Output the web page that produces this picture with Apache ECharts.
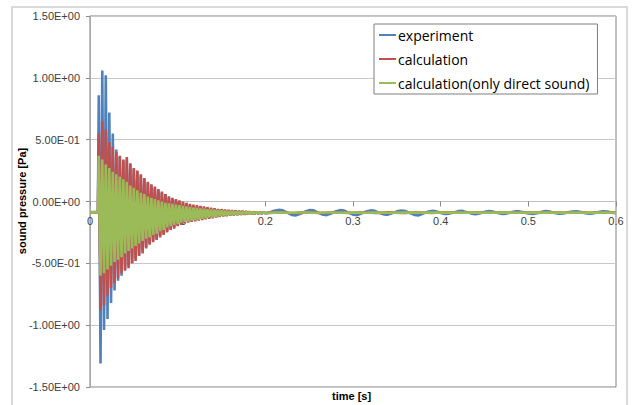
<!DOCTYPE html>
<html>
<head>
<meta charset="utf-8">
<script src="https://cdn.jsdelivr.net/npm/echarts@6/dist/echarts.min.js"></script>
<style>
  html, body { margin: 0; padding: 0; background: #fff; }
  #container { width: 633px; height: 405px; }
</style>
</head>
<body>
<div id="container"></div>
<script>
// sampling of the recorded signal (s)
const preTimes = [0, 0.009];
const burstStart = 0.010, burstStep = 0.002, burstCount = 96;
const tailStart = 0.205, tailStep = 0.005, tailCount = 80;

const yTicks = [-1.5, -1.0, -0.5, 0, 0.5, 1.0, 1.5];
const xTicks = [0, 0.1, 0.2, 0.3, 0.4, 0.5, 0.6];

// values before the sound arrives
const preExperiment = [-0.085, -0.085];
const preCalculation = [-0.088, -0.088];
const preDirect = [-0.088, -0.088];

// 0.010 .. 0.200 s, alternating crest / trough
const burstExperiment = [
  0.86, -1.31, 1.06, -1.04, 1.02, -0.95, 0.72, -0.82, 0.55, -0.72,
  0.42, -0.64, 0.36, -0.60, 0.33, -0.55, 0.34, -0.52, 0.30, -0.50,
  0.26, -0.46, 0.24, -0.43, 0.21, -0.40, 0.18, -0.37, 0.15, -0.34,
  0.13, -0.32, 0.11, -0.30, 0.09, -0.28, 0.07, -0.26, 0.06, -0.24,
  0.04, -0.22, 0.02, -0.21, 0.01, -0.19, 0.0, -0.18, -0.01, -0.17,
  -0.02, -0.16, -0.03, -0.155, -0.035, -0.15, -0.04, -0.145, -0.045, -0.14,
  -0.05, -0.135, -0.055, -0.13, -0.06, -0.125, -0.062, -0.12, -0.065, -0.118,
  -0.068, -0.115, -0.07, -0.112, -0.072, -0.11, -0.074, -0.108, -0.076, -0.106,
  -0.078, -0.104, -0.08, -0.103, -0.082, -0.102, -0.084, -0.101, -0.086, -0.1,
  -0.087, -0.099, -0.088, -0.098, -0.089, -0.095
];
const burstCalculation = [
  0.55, -0.88, 0.65, -0.84, 0.58, -0.76, 0.48, -0.70, 0.44, -0.66,
  0.40, -0.62, 0.37, -0.58, 0.34, -0.56, 0.36, -0.54, 0.31, -0.50,
  0.27, -0.48, 0.25, -0.44, 0.22, -0.42, 0.19, -0.38, 0.16, -0.35,
  0.14, -0.33, 0.12, -0.31, 0.10, -0.29, 0.08, -0.27, 0.06, -0.25,
  0.04, -0.23, 0.03, -0.22, 0.02, -0.20, 0.01, -0.19, 0.0, -0.18,
  -0.01, -0.17, -0.02, -0.165, -0.025, -0.16, -0.03, -0.155, -0.035, -0.15,
  -0.04, -0.145, -0.045, -0.14, -0.05, -0.135, -0.055, -0.13, -0.06, -0.125,
  -0.062, -0.12, -0.065, -0.118, -0.068, -0.115, -0.07, -0.112, -0.072, -0.11,
  -0.074, -0.108, -0.076, -0.106, -0.078, -0.104, -0.08, -0.102, -0.082, -0.1,
  -0.084, -0.098, -0.086, -0.096, -0.088, -0.094
];
const burstDirect = [
  0.37, -0.60, 0.34, -0.58, 0.30, -0.55, 0.27, -0.52, 0.24, -0.49,
  0.22, -0.47, 0.20, -0.45, 0.18, -0.42, 0.16, -0.40, 0.13, -0.38,
  0.11, -0.36, 0.09, -0.34, 0.07, -0.32, 0.06, -0.30, 0.04, -0.29,
  0.03, -0.27, 0.02, -0.26, 0.01, -0.24, 0.0, -0.23, -0.01, -0.21,
  -0.015, -0.20, -0.02, -0.19, -0.025, -0.18, -0.03, -0.17, -0.035, -0.165,
  -0.04, -0.16, -0.045, -0.155, -0.05, -0.15, -0.053, -0.145, -0.056, -0.14,
  -0.059, -0.135, -0.062, -0.13, -0.065, -0.126, -0.068, -0.122, -0.07, -0.118,
  -0.072, -0.115, -0.074, -0.112, -0.076, -0.11, -0.078, -0.107, -0.08, -0.105,
  -0.081, -0.103, -0.082, -0.101, -0.083, -0.1, -0.084, -0.099, -0.085, -0.098,
  -0.086, -0.097, -0.087, -0.096, -0.088, -0.094
];

// 0.205 .. 0.600 s
const tailExperiment = [
  -0.088, -0.075, -0.068, -0.072, -0.09, -0.108, -0.112, -0.1, -0.082, -0.07,
  -0.072, -0.088, -0.105, -0.11, -0.098, -0.08, -0.07, -0.074, -0.09, -0.106,
  -0.11, -0.096, -0.08, -0.072, -0.076, -0.092, -0.104, -0.106, -0.094, -0.08,
  -0.074, -0.078, -0.094, -0.108, -0.112, -0.098, -0.084, -0.076, -0.08, -0.092,
  -0.1, -0.098, -0.088, -0.078, -0.076, -0.086, -0.098, -0.102, -0.094, -0.084,
  -0.078, -0.082, -0.092, -0.1, -0.098, -0.088, -0.08, -0.08, -0.088, -0.096,
  -0.1, -0.094, -0.084, -0.078, -0.082, -0.092, -0.098, -0.096, -0.088, -0.082,
  -0.08, -0.086, -0.094, -0.098, -0.094, -0.086, -0.08, -0.082, -0.09, -0.094
];
const tailCalculation = [
  -0.092, -0.09, -0.088, -0.089, -0.091, -0.093, -0.092, -0.09, -0.088, -0.088,
  -0.09, -0.092, -0.093, -0.091, -0.089, -0.088, -0.089, -0.091, -0.092, -0.091,
  -0.089, -0.088, -0.089, -0.091, -0.092, -0.092, -0.09, -0.088, -0.088, -0.09,
  -0.092, -0.092, -0.09, -0.089, -0.088, -0.089, -0.091, -0.092, -0.091, -0.089,
  -0.088, -0.089, -0.09, -0.091, -0.091, -0.09, -0.089, -0.089, -0.09, -0.091,
  -0.091, -0.09, -0.089, -0.089, -0.09, -0.091, -0.091, -0.09, -0.089, -0.089,
  -0.09, -0.09, -0.091, -0.09, -0.089, -0.089, -0.09, -0.091, -0.09, -0.09,
  -0.089, -0.09, -0.09, -0.091, -0.09, -0.089, -0.09, -0.09, -0.09, -0.09
];
const tailDirect = [
  -0.091, -0.09, -0.089, -0.09, -0.091, -0.091, -0.09, -0.089, -0.089, -0.09,
  -0.091, -0.091, -0.09, -0.089, -0.089, -0.09, -0.091, -0.091, -0.09, -0.089,
  -0.09, -0.09, -0.091, -0.09, -0.089, -0.09, -0.09, -0.091, -0.09, -0.089,
  -0.09, -0.09, -0.09, -0.091, -0.09, -0.089, -0.09, -0.09, -0.09, -0.09,
  -0.09, -0.091, -0.09, -0.09, -0.089, -0.09, -0.09, -0.09, -0.091, -0.09,
  -0.09, -0.089, -0.09, -0.09, -0.09, -0.09, -0.091, -0.09, -0.09, -0.09,
  -0.089, -0.09, -0.09, -0.09, -0.09, -0.09, -0.091, -0.09, -0.09, -0.09,
  -0.09, -0.09, -0.089, -0.09, -0.09, -0.09, -0.09, -0.09, -0.09, -0.09
];

function sampleTimes(start, step, n) {
  const out = [];
  for (let i = 0; i < n; i++) out.push(+(start + i * step).toFixed(4));
  return out;
}

const times = preTimes
  .concat(sampleTimes(burstStart, burstStep, burstCount))
  .concat(sampleTimes(tailStart, tailStep, tailCount));

function pairs(values) {
  return values.map((v, i) => [times[i], v]);
}

const experiment = pairs(preExperiment.concat(burstExperiment, tailExperiment));
const calculation = pairs(preCalculation.concat(burstCalculation, tailCalculation));
const direct = pairs(preDirect.concat(burstDirect, tailDirect));

// 1.50E+00 style
function sci(v) {
  const parts = v.toExponential(2).split('e');
  const exp = parseInt(parts[1], 10);
  const sign = exp < 0 ? '-' : '+';
  const digits = String(Math.abs(exp)).padStart(2, '0');
  return parts[0] + 'E' + sign + digits;
}

const font = 'Liberation Sans';
const lineIcon = 'path://M0,0L17,0L17,2L0,2Z';

const gridTop = 16, gridBottom = 18, chartHeight = 405;
// the time axis crosses the pressure axis at 0 (middle of the symmetric range)
const plotHeight = chartHeight - gridTop - gridBottom;
const zeroOffset = -plotHeight * (0 - yTicks[0]) / (yTicks[yTicks.length - 1] - yTicks[0]);

const chart = echarts.init(document.getElementById('container'), null, { renderer: 'svg' });

chart.setOption({
  animation: false,
  backgroundColor: '#ffffff',
  grid: {
    left: 90, right: 17, top: gridTop, bottom: gridBottom,
    show: true, borderColor: '#808080', borderWidth: 1
  },
  legend: {
    orient: 'vertical',
    left: 374, top: 24,
    padding: [4, 8, 4, 5],
    itemGap: 10,
    itemWidth: 17, itemHeight: 14,
    backgroundColor: '#ffffff',
    borderColor: '#7f7f7f', borderWidth: 1, borderRadius: 0,
    textStyle: { fontFamily: 'Open Sans', fontSize: 14, lineHeight: 14, color: '#000', padding: [0, 0, 0, -3] },
    data: [
      { name: 'experiment', icon: lineIcon },
      { name: 'calculation', icon: lineIcon },
      { name: 'calculation(only direct sound)', icon: lineIcon }
    ]
  },
  xAxis: {
    type: 'value',
    position: 'bottom',
    offset: zeroOffset,
    min: xTicks[0], max: xTicks[xTicks.length - 1], interval: 0.1,
    axisLine: { onZero: false, lineStyle: { color: '#bfbfbf', width: 1 } },
    axisTick: { show: true, length: 5, lineStyle: { color: '#8c8c8c' } },
    splitLine: { show: false },
    axisLabel: {
      margin: 14, fontFamily: font, fontSize: 11, color: '#404040',
      formatter: v => String(+v.toFixed(1))
    }
  },
  yAxis: {
    type: 'value',
    min: yTicks[0], max: yTicks[yTicks.length - 1], interval: 0.5,
    axisLine: { show: true, onZero: false, lineStyle: { color: '#a6a6a6' } },
    axisTick: { show: true, length: 4, lineStyle: { color: '#8c8c8c' } },
    splitLine: { show: true, lineStyle: { color: '#c8c8c8', width: 1 } },
    axisLabel: { margin: 10, fontFamily: font, fontSize: 11, color: '#404040', formatter: sci }
  },
  graphic: [
    {
      type: 'rect', z: -10, silent: true,
      shape: { x: 12, y: 7, width: 615, height: 420 },
      style: { fill: 'none', stroke: '#d9d9d9', lineWidth: 2 }
    },
    {
      type: 'text', x: 332, y: 390,
      style: { text: 'time [s]', fontFamily: font, fontSize: 11, fontWeight: 'bold', fill: '#000' }
    },
    {
      type: 'text', x: 22, y: 201, rotation: Math.PI / 2,
      style: {
        text: 'sound pressure [Pa]', fontFamily: font, fontSize: 11, fontWeight: 'bold',
        fill: '#000', align: 'center', verticalAlign: 'middle'
      }
    }
  ],
  series: [
    {
      name: 'experiment', type: 'line', data: experiment,
      symbol: 'none', color: '#4f81bd', lineStyle: { width: 2.6, join: 'bevel' }
    },
    {
      name: 'calculation', type: 'line', data: calculation,
      symbol: 'none', color: '#c0504d', lineStyle: { width: 2.6, join: 'bevel' }
    },
    {
      name: 'calculation(only direct sound)', type: 'line', data: direct,
      symbol: 'none', color: '#9bbb59', lineStyle: { width: 2.6, join: 'bevel' }
    }
  ]
});
</script>
</body>
</html>
